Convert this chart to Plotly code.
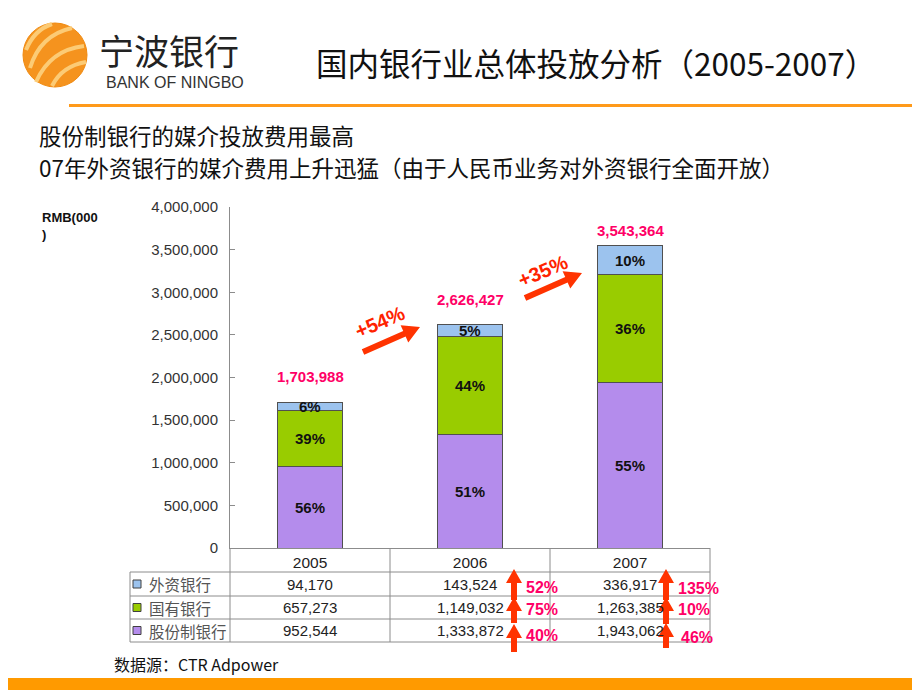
import plotly.graph_objects as go

# ---------------- data ----------------
years = ["2005", "2006", "2007"]
series_names = ["股份制银行", "国有银行", "外资银行"]          # bottom -> top
joint_stock = [952544, 1333872, 1943062]
state_owned = [657273, 1149032, 1263385]
foreign = [94170, 143524, 336917]
totals = [1703988, 2626427, 3543364]
table_order = ["外资银行", "国有银行", "股份制银行"]
y_ticks = [0, 500000, 1000000, 1500000, 2000000, 2500000, 3000000, 3500000, 4000000]

series_vals = [joint_stock, state_owned, foreign]
colors = ["#B48CEC", "#99CC00", "#9CC3EE"]
color_of = dict(zip(series_names, colors))
vals_of = dict(zip(series_names, series_vals))

# ---------------- geometry helpers (page pixel -> paper) ----------------
W, H = 920, 690
OFF = 8                      # page body margin
L, R, T, B = 230, 710, 207, 548   # plot area in page pixels


def PX(x):
    return (x - L) / (R - L)


def PY(y):
    return (B - y) / (B - T)


fig = go.Figure()
for name, vals, col in zip(series_names, series_vals, colors):
    fig.add_trace(go.Bar(
        x=years, y=vals, name=name, width=0.41,
        marker=dict(color=col, line=dict(color="#505050", width=1)),
        hoverinfo="x+y+name",
    ))

shapes = []
annotations = []


def line(x0, y0, x1, y1, color="#8C8C8C", width=1):
    shapes.append(dict(type="line", xref="paper", yref="paper",
                       x0=PX(x0), y0=PY(y0), x1=PX(x1), y1=PY(y1),
                       line=dict(color=color, width=width)))


def rect(x0, y0, x1, y1, fill, lc=None, lw=0):
    shapes.append(dict(type="rect", xref="paper", yref="paper",
                       x0=PX(x0), y0=PY(y0), x1=PX(x1), y1=PY(y1),
                       fillcolor=fill, line=dict(color=lc or fill, width=lw)))


def arrow(x0, y0, x1, y1, sw, hw, hl, color="#FF3300"):
    dx, dy = x1 - x0, y1 - y0
    n = (dx * dx + dy * dy) ** 0.5
    ux, uy = dx / n, dy / n
    nx, ny = -uy, ux
    bx, by = x1 - ux * hl, y1 - uy * hl
    pts = [
        (x0 + nx * sw / 2, y0 + ny * sw / 2),
        (bx + nx * sw / 2, by + ny * sw / 2),
        (bx + nx * hw / 2, by + ny * hw / 2),
        (x1, y1),
        (bx - nx * hw / 2, by - ny * hw / 2),
        (bx - nx * sw / 2, by - ny * sw / 2),
        (x0 - nx * sw / 2, y0 - ny * sw / 2),
    ]
    path = "M " + " L ".join(f"{PX(px):.5f},{PY(py):.5f}" for px, py in pts) + " Z"
    shapes.append(dict(type="path", xref="paper", yref="paper", path=path,
                       fillcolor=color, line=dict(color=color, width=0)))


def text(x, y, s, size, color="#111", bold=False, xanchor="center",
         family="Noto Sans CJK SC", angle=0, xref="paper", yanchor="middle"):
    if bold:
        s = f"<b>{s}</b>"
    annotations.append(dict(
        x=x if xref != "paper" else PX(x), y=PY(y), xref=xref, yref="paper",
        text=s, showarrow=False, xanchor=xanchor, yanchor=yanchor,
        textangle=angle, font=dict(size=size, color=color, family=family)))


# ---------------- header ----------------
shapes.append(dict(type="circle", xref="paper", yref="paper",
                   x0=PX(23), y0=PY(23), x1=PX(87), y1=PY(87),
                   fillcolor="#F5931E", line=dict(color="#F08A10", width=1)))
for p in ["M 30,68 Q 40,35 72,28", "M 36,82 Q 50,50 84,46",
          "M 52,86 Q 62,66 86,62", "M 26,50 Q 34,30 52,24"]:
    pts = p.replace("M ", "").replace("Q ", "").split()
    conv = [f"{PX(float(a.split(',')[0])):.5f},{PY(float(a.split(',')[1])):.5f}" for a in pts]
    shapes.append(dict(type="path", xref="paper", yref="paper",
                       path=f"M {conv[0]} Q {conv[1]} {conv[2]}",
                       line=dict(color="#FCCB75", width=4)))
text(97, 49, "宁波银行", 35, color="#222", xanchor="left")
text(104, 82, "BANK OF NINGBO", 16, color="#333", xanchor="left",
     family="Liberation Sans, Arial")
text(596, 62, "国内银行业总体投放分析（2005-2007）", 31.5, color="#111")
rect(69, 104, 928, 107, "#FF9A1A")

text(37, 135, "股份制银行的媒介投放费用最高", 22.5, color="#111", xanchor="left")
text(37, 167, "07年外资银行的媒介费用上升迅猛（由于人民币业务对外资银行全面开放）",
     22.5, color="#111", xanchor="left")

annotations.append(dict(x=PX(40), y=PY(208), xref="paper", yref="paper",
                        text="<b>RMB(000<br>)</b>", showarrow=False,
                        xanchor="left", yanchor="top", align="left",
                        font=dict(size=13, color="#111", family="Liberation Sans, Arial")))

# ---------------- labels inside bars and totals ----------------
for i, yr in enumerate(years):
    s = sum(v[i] for v in series_vals)
    base = 0
    for vals in series_vals:
        pct = round(vals[i] / s * 100)
        annotations.append(dict(x=i, y=base + vals[i] / 2, xref="x", yref="y",
                                text=f"<b>{pct}%</b>", showarrow=False,
                                font=dict(size=15, color="#111",
                                          family="Liberation Sans, Arial")))
        base += vals[i]
total_gap = [16, 14, 5]
for i, yr in enumerate(years):
    annotations.append(dict(x=i, y=totals[i], xref="x", yref="y",
                            text=f"<b>{totals[i]:,}</b>", showarrow=False,
                            yshift=total_gap[i], yanchor="bottom",
                            font=dict(size=15, color="#FF0066",
                                      family="Liberation Sans, Arial")))

# growth arrows between bars
growth = [round((totals[i] / totals[i - 1] - 1) * 100) for i in range(1, len(totals))]
diag = [((363, 352), (420, 327), (380, 322)), ((525, 298), (582, 273), (543, 271))]
for g, ((x0, y0), (x1, y1), (tx, ty)) in zip(growth, diag):
    arrow(x0, y0, x1, y1, 6, 19, 17)
    text(tx, ty, f"+{g}%", 20, color="#FF2200", bold=True, angle=-23,
         family="Liberation Sans, Arial")

# ---------------- table ----------------
row_lines = [572, 596, 619, 642]
line(L, B, L, 642)
for x in [390, 550, 710]:
    line(x, B, x, 642)
line(130, 572, 130, 642)
for y in row_lines:
    line(130, y, 710, y)

row_centers = [584, 607.5, 630.5]
for name, yc in zip(table_order, row_centers):
    rect(133, yc - 4, 141, yc + 4, color_of[name], lc="#404040", lw=1)
    text(147, yc, name, 15.5, color="#555", xanchor="left")
    for i, yr in enumerate(years):
        text(i, yc, f"{vals_of[name][i]:,}", 15, color="#222",
             family="Liberation Sans, Arial", xref="x")

# growth arrows in table
arrow_x = {1: 514, 2: 666}
arrow_spans = {1: [(569, 600), (597, 623), (624, 652)],
               2: [(569, 600), (597, 624), (623, 648)]}
label_x = {1: 524, 2: 676}
label_y = {1: [587, 609, 635], 2: [588, 609, 637]}
label_dx = {1: [0, 0, 0], 2: [0, 0, 3]}
for i in (1, 2):
    for (tip, tail) in arrow_spans[i]:
        arrow(arrow_x[i], tail, arrow_x[i], tip, 6, 16, 14)
    for k, name in enumerate(table_order):
        v = vals_of[name]
        g = round((v[i] / v[i - 1] - 1) * 100)
        text(label_x[i] + label_dx[i][k], label_y[i][k], f"{g}%", 16,
             color="#FF0066", bold=True, xanchor="left",
             family="Liberation Sans, Arial")

# ---------------- footer ----------------
text(112, 664, "数据源：CTR Adpower", 16, color="#111", xanchor="left")
rect(0, 678, 930, 700, "#FF9A00")

fig.update_layout(
    width=W, height=H, barmode="stack", showlegend=False,
    plot_bgcolor="white", paper_bgcolor="white",
    margin=dict(l=L - OFF, r=W - (R - OFF), t=T - OFF, b=H - (B - OFF), pad=0),
    shapes=shapes, annotations=annotations,
    xaxis=dict(type="category", range=[-0.5, 2.5], showline=True,
               linecolor="#8C8C8C", linewidth=1, ticks="", showgrid=False,
               tickfont=dict(size=15.5, color="#222", family="Liberation Sans, Arial"),
               fixedrange=True),
    yaxis=dict(range=[0, 4000000], tickvals=y_ticks, tickformat=",",
               showline=True, linecolor="#8C8C8C", linewidth=1,
               ticks="inside", ticklen=5, tickcolor="#8C8C8C",
               showgrid=False, zeroline=False, ticklabelstandoff=8,
               tickfont=dict(size=15, color="#333", family="Liberation Sans, Arial"),
               fixedrange=True),
)

fig.write_html("out.html")
